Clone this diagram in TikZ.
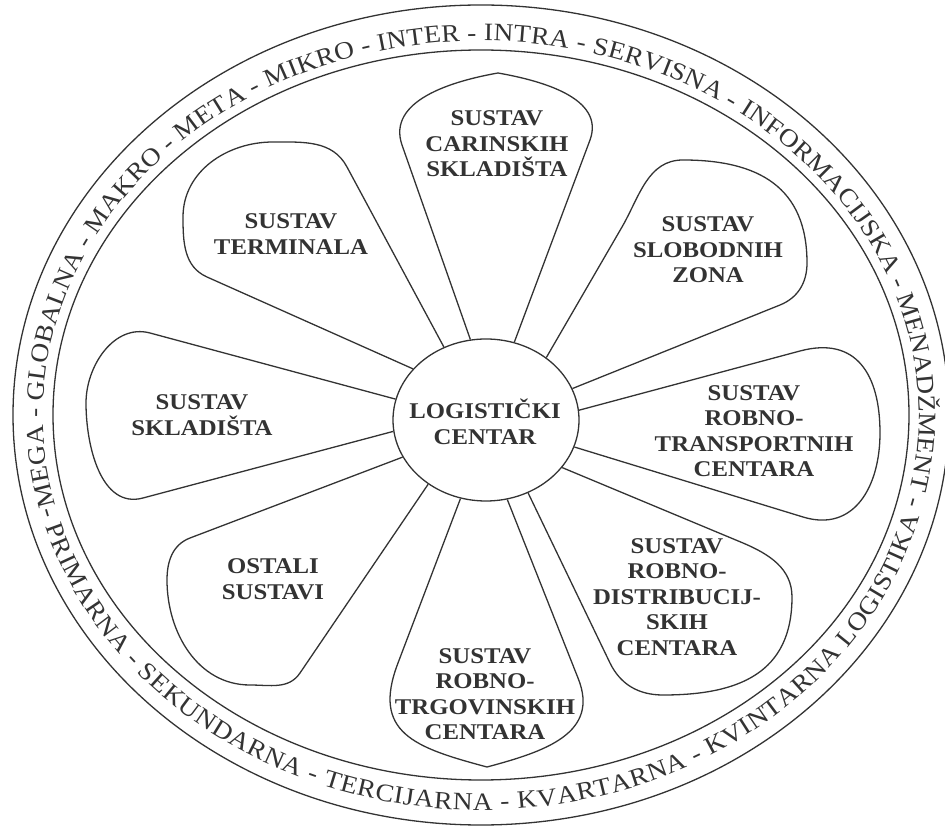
\documentclass[tikz,border=0pt]{standalone}
\usepackage{fontspec}
\setmainfont{Liberation Serif}[FakeStretch=1.1]
\usepackage{tikz}
\usetikzlibrary{decorations.text,shapes.geometric}
\definecolor{ink}{HTML}{333333}
\newcommand\ringfont{\fontsize{25}{25}\selectfont\color{ink}}

\begin{document}
\begin{tikzpicture}[x=1pt,y=1pt,
    petal/.style={draw=ink,line width=1.3pt},
    petaltext/.style={text=ink,align=center,
      font=\bfseries\fontsize{22.5}{25.5}\selectfont},
    ringtext/.style={decorate,decoration={text along path,
      text align={fit to path},text={|\ringfont|#1}}}]
  \useasboundingbox (0,0) rectangle (945,828);

  \draw[petal] (481,413) ellipse [x radius=468,y radius=410];
  \draw[petal] (481,413) ellipse [x radius=428,y radius=365];

  \path[ringtext={MEGA - GLOBALNA - MAKRO - META - MIKRO - INTER - INTRA - SERVISNA - INFORMACIJSKA - MENADŽMENT -}]
    (481,413) ++(194:438 and 374) arc[start angle=194,end angle=-14,x radius=438,y radius=374];
  \path[ringtext={- PRIMARNA - SEKUNDARNA - TERCIJARNA - KVARTARNA - KVINTARNA LOGISTIKA}]
    (481,413) ++(194:454 and 395) arc[start angle=194,end angle=345,x radius=454,y radius=395];

  \node[petal,ellipse,minimum width=186,minimum height=162,inner sep=0] (hub) at (486,408) {};

  \draw[petal] (hub.101) -- (402,683) to[out=109,in=190] (498,755)
    to[out=-10,in=70] (590,688) -- (hub.70);
  \draw[petal] (hub.46) -- (622,601) to[out=60,in=180] (683,668)
    to[out=0,in=90,looseness=1.2] (807,565) to[out=-90,in=22] (780,523) -- (hub.20);
  \draw[petal] (hub.6) -- (800,477) to[out=15,in=90,looseness=1.3] (880,395)
    to[out=-90,in=-17,looseness=1.2] (803,311) -- (hub.-17);
  \draw[petal] (hub.-32) -- (743,285) to[out=-23,in=90] (792,231)
    to[out=-90,in=0,looseness=1.2] (663,133) to[out=180,in=-64] (610,165) -- (hub.-60);
  \draw[petal] (hub.-108) -- (398,165) to[out=-111,in=165,looseness=1.4] (487,61)
    to[out=15,in=-68,looseness=1.2] (578,150) -- (hub.-75);
  \draw[petal] (hub.204) -- (190,290) to[out=201,in=90] (167,248)
    to[out=-90,in=180] (250,143) to[out=0,in=236] (300,155) -- (hub.228);
  \draw[petal] (hub.167) -- (150,495) to[out=165,in=90] (86,425)
    to[out=-90,in=195] (143,330) -- (hub.187);
  \draw[petal] (hub.120) -- (347,661) to[out=118,in=0] (273,686)
    to[out=180,in=90] (183,611) to[out=-90,in=156] (207,551) -- (hub.145);

  \node[petaltext] (hubtext) at (485,406) {LOGISTIČKI\\CENTAR};
  \node[petaltext] (carinski) at (497,684) {SUSTAV\\CARINSKIH\\SKLADIŠTA};
  \node[petaltext] (slobodni) at (708,578) {SUSTAV\\SLOBODNIH\\ZONA};
  \node[petaltext] (transport) at (754,397) {SUSTAV\\ROBNO-\\TRANSPORTNIH\\CENTARA};
  \node[petaltext] (distrib) at (677,231) {SUSTAV\\ROBNO-\\DISTRIBUCIJ-\\SKIH\\CENTARA};
  \node[petaltext] (trgovina) at (485,134) {SUSTAV\\ROBNO-\\TRGOVINSKIH\\CENTARA};
  \node[petaltext] (ostali) at (273,249) {OSTALI\\SUSTAVI};
  \node[petaltext] (skladista) at (202,413) {SUSTAV\\SKLADIŠTA};
  \node[petaltext] (terminali) at (291,594) {SUSTAV\\TERMINALA};
\end{tikzpicture}
\end{document}
